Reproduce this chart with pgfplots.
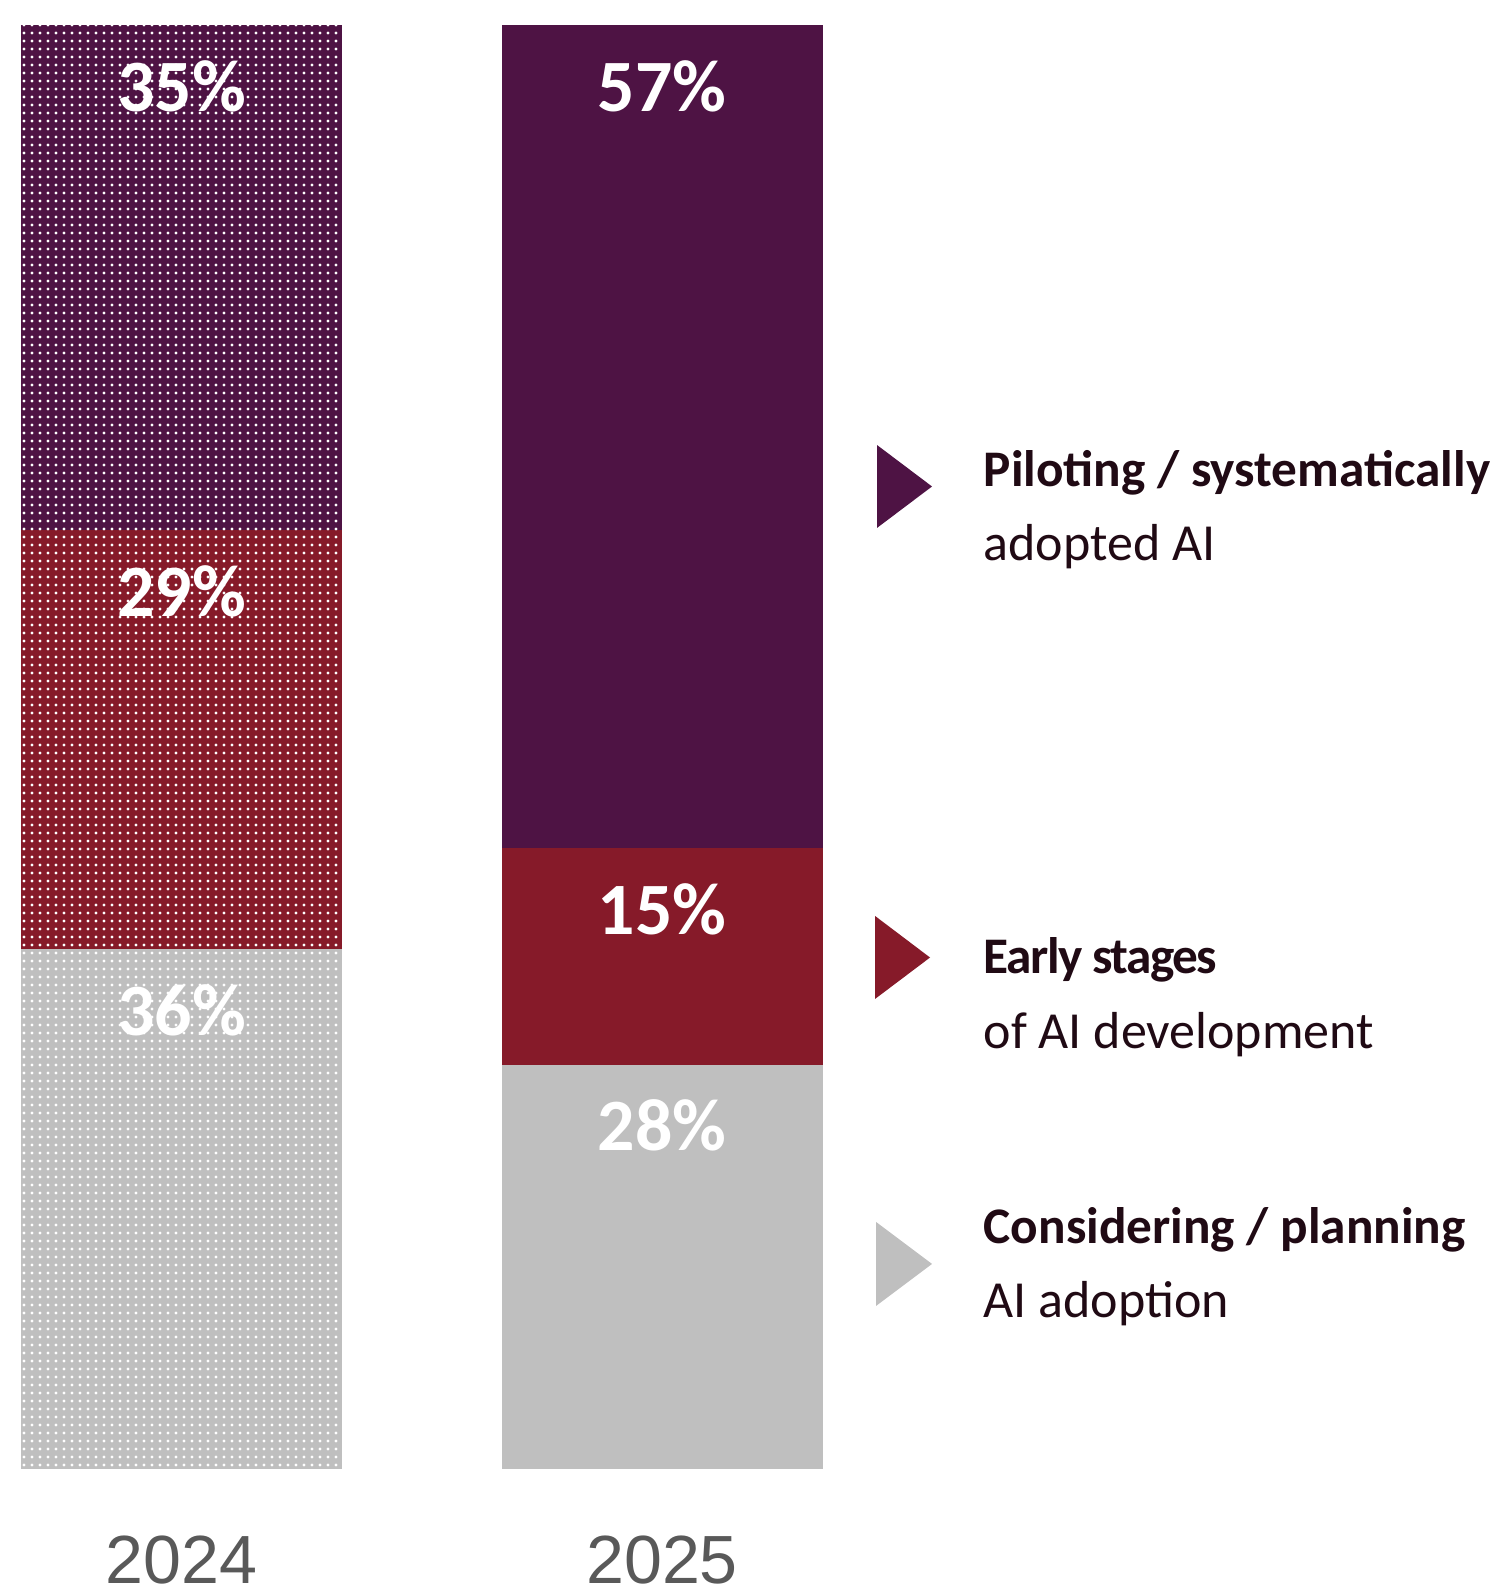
\documentclass[border=0pt]{standalone}
\usepackage{pgfplots}
\pgfplotsset{compat=1.18}
\usetikzlibrary{patterns.meta}
\usepackage{fontspec}
\setmainfont{Carlito}
\newfontfamily\yearfont{Liberation Sans}
\definecolor{cpurple}{HTML}{4E1344}
\definecolor{cred}{HTML}{861A29}
\definecolor{cgray}{HTML}{BFBFBF}
\definecolor{ctext}{HTML}{200A14}
\definecolor{cyear}{HTML}{595959}

\pgfplotsset{mybase/.style={
 scale only axis, width=150.7mm, height=144.4mm,
 at={(0,0)}, anchor=south west,
 xmin=0,xmax=1507,ymin=0,ymax=100,
 enlargelimits=false,
 ybar stacked, bar width=321,
 axis line style={draw=none}, major tick length=0pt, ytick=\empty,
 clip=false,
 xticklabel style={font=\yearfont\fontsize{19.4}{20}\selectfont, text=cyear, anchor=base, inner sep=0pt, yshift=-11.4mm},
 point meta=explicit symbolic,
 nodes near coords,
 every node near coord/.append style={anchor=center, font=\bfseries\fontsize{21}{22}\selectfont, text=white},
},
lab/.style={every node near coord/.append style={yshift=#1}}}
\tikzset{dotty/.style={postaction={pattern={Dots[distance=0.8mm, radius=0.17mm]}, pattern color=white}}}

\begin{document}
\begin{tikzpicture}
\begin{axis}[mybase, xtick={181.5}, xticklabels={2024}]
\addplot[fill=cgray, draw=none, dotty, lab=19.89mm] coordinates {(181.5,36) [36\%]};
\addplot[fill=cred, draw=none, dotty, lab=14.84mm] coordinates {(181.5,29) [29\%]};
\addplot[fill=cpurple, draw=none, dotty, lab=19.17mm] coordinates {(181.5,35) [35\%]};
\end{axis}
\begin{axis}[mybase, xtick={662}, xticklabels={2025}]
\addplot[fill=cgray, draw=none, lab=14.12mm] coordinates {(662,28) [28\%]};
\addplot[fill=cred, draw=none, lab=4.73mm] coordinates {(662,15) [15\%]};
\addplot[fill=cpurple, draw=none, lab=35.05mm] coordinates {(662,57) [57\%]};
\fill[cpurple] (axis cs:877,70.91) -- (axis cs:932,68.04) -- (axis cs:877,65.17) -- cycle;
\fill[cred] (axis cs:875,38.30) -- (axis cs:930,35.42) -- (axis cs:875,32.55) -- cycle;
\fill[cgray] (axis cs:876,17.11) -- (axis cs:932,14.20) -- (axis cs:876,11.29) -- cycle;
\tikzset{lt/.style={anchor=base west, inner sep=0pt, text=ctext, font=\fontsize{14.6}{15}\selectfont\bfseries}, lr/.style={anchor=base west, inner sep=0pt, text=ctext, font=\fontsize{14.8}{15}\selectfont}}
\node[lt] at (axis cs:983,68.05) {Piloting / systematically};
\node[lr] at (axis cs:983,62.88) {adopted AI};
\node[lt] at (axis cs:983,34.28) {\addfontfeatures{LetterSpace=-3}Early stages};
\node[lr] at (axis cs:983,29.15) {of AI development};
\node[lt] at (axis cs:983,15.65) {Considering / planning};
\node[lr] at (axis cs:983,10.48) {AI adoption};
\coordinate (bbA) at (axis cs:0,-8.587);
\coordinate (bbB) at (axis cs:1507,101.73);
\end{axis}
\pgfresetboundingbox
\path[use as bounding box] (bbA) rectangle (bbB);
\end{tikzpicture}
\end{document}
